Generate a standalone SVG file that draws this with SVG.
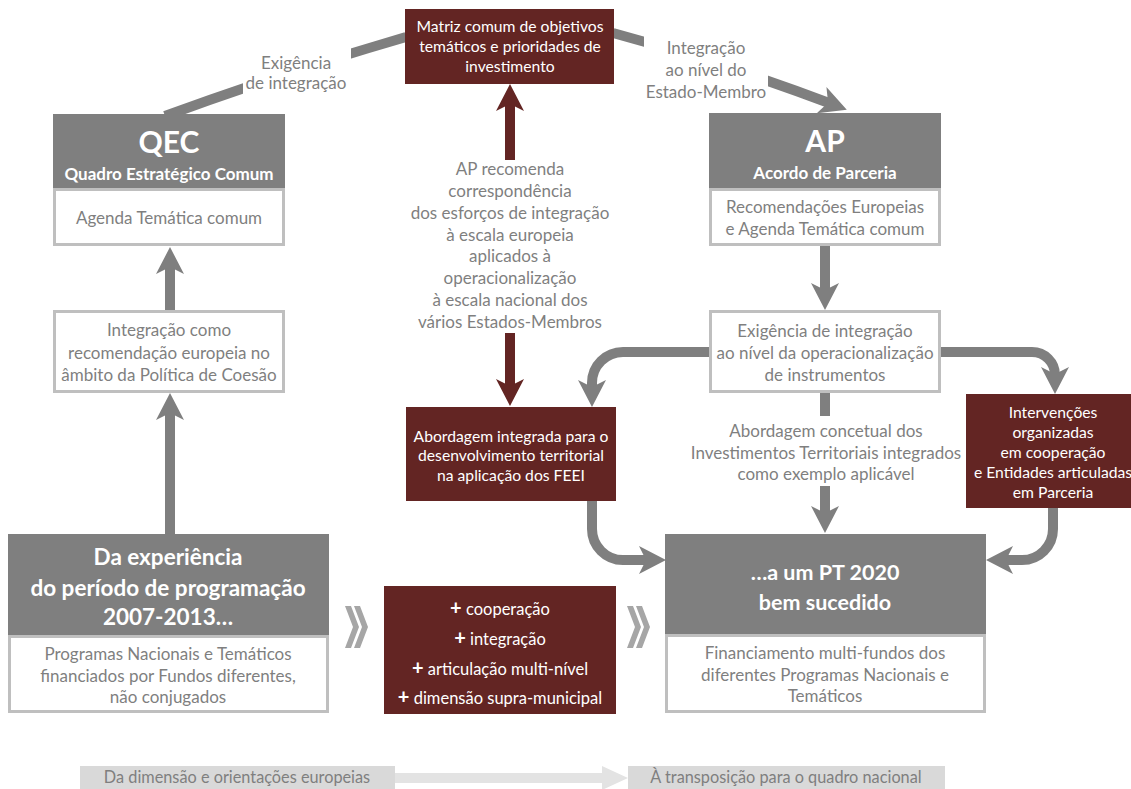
<svg xmlns="http://www.w3.org/2000/svg" width="1131" height="789" viewBox="0 0 1131 789">
<defs>
<style>
.hdr{fill:#7f7f7f}
.wbox{fill:#ffffff;stroke:#bfbfbf;stroke-width:3}
.mar{fill:#632523}
.t{font-family:Lato,"Open Sans","Liberation Sans",sans-serif;text-anchor:middle}
.g{fill:#7f7f7f;font-size:17px}
.w{fill:#ffffff;font-size:15.7px}
.wl{fill:#ffffff;font-size:16.5px}
.hb{fill:#ffffff;font-weight:bold}
.con{fill:none;stroke:#7f7f7f;stroke-width:10}
.conm{fill:none;stroke:#632523;stroke-width:10}
.band{fill:#d9d9d9}
.bt{fill:#7f7f7f;font-size:16.3px}
.chev{fill:#a6a6a6}
</style>
<marker id="ag" markerUnits="userSpaceOnUse" markerWidth="28" markerHeight="28" refX="8" refY="14" orient="auto" viewBox="0 0 28 28">
<path d="M0,0 L27,14 L0,28 L7,14 z" fill="#7f7f7f"/>
</marker>
<marker id="am" markerUnits="userSpaceOnUse" markerWidth="28" markerHeight="28" refX="8" refY="14" orient="auto" viewBox="0 0 28 28">
<path d="M0,0 L27,14 L0,28 L7,14 z" fill="#632523"/>
</marker>
</defs>
<rect width="1131" height="789" fill="#ffffff"/>

<g id="connectors">
<path class="con" d="M165,116 Q285,72 406,37"/>
<path class="con" d="M613,33 Q720,62 829,103" marker-end="url(#ag)"/>
<path class="con" d="M170,310 V266" marker-end="url(#ag)"/>
<path class="con" d="M170,534 V412" marker-end="url(#ag)"/>
<path class="con" d="M825,245 V291" marker-end="url(#ag)"/>
<path class="con" d="M709,352 H623 A31,31 0 0 0 592,383 V388" marker-end="url(#ag)"/>
<path class="con" d="M941,352 H1032 A23,23 0 0 1 1055,375" marker-end="url(#ag)"/>
<path class="con" d="M825,392 V416"/>
<path class="con" d="M825,486 V514" marker-end="url(#ag)"/>
<path class="con" d="M592,501 V529 A31,31 0 0 0 623,560 H647" marker-end="url(#ag)"/>
<path class="con" d="M1053,508 V529 A31,31 0 0 1 1022,560 H1005" marker-end="url(#ag)"/>
<path class="conm" d="M510,160 V103" marker-end="url(#am)"/>
<path class="conm" d="M510,333 V387" marker-end="url(#am)"/>
</g>

<g id="label-exigencia">
<rect x="243" y="45" width="108" height="55" fill="#ffffff"/>
<text class="t g" x="296" y="69">Exigência</text>
<text class="t g" x="296" y="89">de integração</text>
</g>
<g id="label-integracao">
<rect x="644" y="30" width="124" height="78" fill="#ffffff"/>
<text class="t g" x="706" y="54">Integração</text>
<text class="t g" x="706" y="76">ao nível do</text>
<text class="t g" x="706" y="98">Estado-Membro</text>
</g>
<g id="label-ap-recomenda">
<text class="t g" x="510" y="175">AP recomenda</text>
<text class="t g" x="510" y="197">correspondência</text>
<text class="t g" x="510" y="219">dos esforços de integração</text>
<text class="t g" x="510" y="241">à escala europeia</text>
<text class="t g" x="510" y="262">aplicados à</text>
<text class="t g" x="510" y="284">operacionalização</text>
<text class="t g" x="510" y="306">à escala nacional dos</text>
<text class="t g" x="510" y="328">vários Estados-Membros</text>
</g>
<g id="label-abordagem-concetual">
<text class="t g" x="826" y="437">Abordagem concetual dos</text>
<text class="t g" x="826" y="459">Investimentos Territoriais integrados</text>
<text class="t g" x="826" y="480">como exemplo aplicável</text>
</g>

<g id="matriz">
<rect class="mar" x="405" y="9" width="209" height="75"/>
<text class="t w" x="510" y="32">Matriz comum de objetivos</text>
<text class="t w" x="510" y="52">temáticos e prioridades de</text>
<text class="t w" x="510" y="72">investimento</text>
</g>

<g id="qec">
<rect class="hdr" x="53" y="114" width="232" height="74"/>
<text class="t hb" x="169" y="153" font-size="30">QEC</text>
<text class="t hb" x="169" y="180" font-size="17">Quadro Estratégico Comum</text>
<rect class="wbox" x="54.5" y="189.5" width="229" height="55"/>
<text class="t g" x="169" y="224">Agenda Temática comum</text>
</g>

<g id="integracao-recomendacao">
<rect class="wbox" x="54.5" y="311.5" width="229" height="80"/>
<text class="t g" x="169" y="336">Integração como</text>
<text class="t g" x="169" y="359">recomendação europeia no</text>
<text class="t g" x="169" y="381">âmbito da Política de Coesão</text>
</g>

<g id="experiencia">
<rect class="hdr" x="8" y="534" width="321" height="101"/>
<text class="t hb" x="168" y="565" font-size="22.5">Da experiência</text>
<text class="t hb" x="168" y="596" font-size="22.5">do período de programação</text>
<text class="t hb" x="168" y="625" font-size="22.5">2007-2013…</text>
<rect class="wbox" x="9.5" y="636.5" width="318" height="75"/>
<text class="t g" x="168" y="660">Programas Nacionais e Temáticos</text>
<text class="t g" x="168" y="682">financiados por Fundos diferentes,</text>
<text class="t g" x="168" y="703">não conjugados</text>
</g>

<g id="chevrons-1">
<polygon class="chev" points="345,606 351,606 359,627 351,648 345,648 353,627"/>
<polygon class="chev" points="354,606 360,606 368,627 360,648 354,648 362,627"/>
</g>

<g id="mais">
<rect class="mar" x="384" y="586" width="232" height="128"/>
<text class="t wl" x="500" y="615"><tspan font-weight="bold" font-size="20">+</tspan> cooperação</text>
<text class="t wl" x="500" y="645"><tspan font-weight="bold" font-size="20">+</tspan> integração</text>
<text class="t wl" x="500" y="675"><tspan font-weight="bold" font-size="20">+</tspan> articulação multi-nível</text>
<text class="t wl" x="500" y="704"><tspan font-weight="bold" font-size="20">+</tspan> dimensão supra-municipal</text>
</g>

<g id="chevrons-2">
<polygon class="chev" points="627,606 633,606 641,627 633,648 627,648 635,627"/>
<polygon class="chev" points="636,606 642,606 650,627 642,648 636,648 644,627"/>
</g>

<g id="ap">
<rect class="hdr" x="709" y="113" width="232" height="75"/>
<text class="t hb" x="825" y="152" font-size="30">AP</text>
<text class="t hb" x="825" y="179" font-size="17">Acordo de Parceria</text>
<rect class="wbox" x="710.5" y="189.5" width="229" height="55"/>
<text class="t g" x="825" y="213">Recomendações Europeias</text>
<text class="t g" x="825" y="235">e Agenda Temática comum</text>
</g>

<g id="exigencia-operacionalizacao">
<rect class="wbox" x="710.5" y="311.5" width="229" height="80"/>
<text class="t g" x="825" y="337">Exigência de integração</text>
<text class="t g" x="825" y="359">ao nível da operacionalização</text>
<text class="t g" x="825" y="381">de instrumentos</text>
</g>

<g id="abordagem-integrada">
<rect class="mar" x="406" y="407" width="210" height="94"/>
<text class="t w" x="511" y="442">Abordagem integrada para o</text>
<text class="t w" x="511" y="461">desenvolvimento territorial</text>
<text class="t w" x="511" y="481">na aplicação dos FEEI</text>
</g>

<g id="intervencoes">
<rect class="mar" x="966" y="394" width="165" height="114"/>
<text class="t w" x="1053" y="418">Intervenções</text>
<text class="t w" x="1053" y="438">organizadas</text>
<text class="t w" x="1053" y="458">em cooperação</text>
<text class="t w" x="1053" y="478">e Entidades articuladas</text>
<text class="t w" x="1053" y="498">em Parceria</text>
</g>

<g id="pt2020">
<rect class="hdr" x="665" y="534" width="321" height="100"/>
<text class="t hb" x="825" y="580" font-size="21.5">…a um PT 2020</text>
<text class="t hb" x="825" y="610" font-size="21.5">bem sucedido</text>
<rect class="wbox" x="666.5" y="635.5" width="318" height="76"/>
<text class="t g" x="825" y="659">Financiamento multi-fundos dos</text>
<text class="t g" x="825" y="681">diferentes Programas Nacionais e</text>
<text class="t g" x="825" y="702">Temáticos</text>
</g>

<g id="legend">
<rect class="band" x="80" y="766" width="315" height="23"/>
<text class="t bt" x="237" y="783">Da dimensão e orientações europeias</text>
<path d="M395,773 H602 V766 L628,778 L602,790 V783 H395 z" fill="#e3e3e3"/>
<rect class="band" x="628" y="766" width="317" height="23"/>
<text class="t bt" x="786" y="783">À transposição para o quadro nacional</text>
</g>
</svg>
